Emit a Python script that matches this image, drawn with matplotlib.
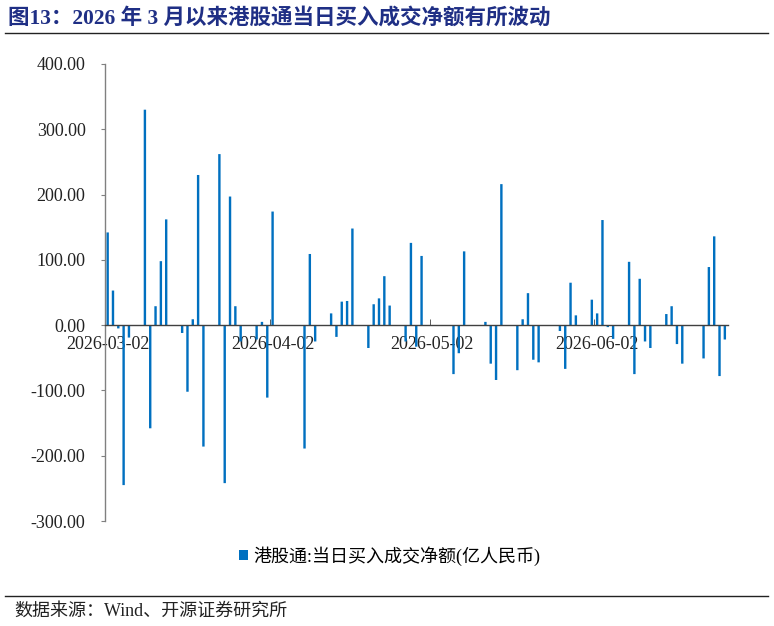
import datetime as dt
import matplotlib
matplotlib.use("Agg")
import matplotlib.pyplot as plt
import matplotlib.dates as mdates
from matplotlib.lines import Line2D
from matplotlib.patches import Patch
from matplotlib.ticker import FormatStrFormatter, FixedLocator

# ── 数据 ─────────────────────────────────────────────
dates = [
    "2026-03-02", "2026-03-03", "2026-03-04", "2026-03-05", "2026-03-06",
    "2026-03-09", "2026-03-10", "2026-03-11", "2026-03-12", "2026-03-13",
    "2026-03-16", "2026-03-17", "2026-03-18", "2026-03-19", "2026-03-20",
    "2026-03-23", "2026-03-24", "2026-03-25", "2026-03-26", "2026-03-27",
    "2026-03-30", "2026-03-31", "2026-04-01", "2026-04-02",
    "2026-04-08", "2026-04-09", "2026-04-10",
    "2026-04-13", "2026-04-14", "2026-04-15", "2026-04-16", "2026-04-17",
    "2026-04-20", "2026-04-21", "2026-04-22", "2026-04-23", "2026-04-24",
    "2026-04-27", "2026-04-28", "2026-04-29", "2026-04-30",
    "2026-05-06", "2026-05-07", "2026-05-08",
    "2026-05-12", "2026-05-13", "2026-05-14", "2026-05-15",
    "2026-05-18", "2026-05-19", "2026-05-20", "2026-05-21", "2026-05-22",
    "2026-05-26", "2026-05-27", "2026-05-28", "2026-05-29",
    "2026-06-01", "2026-06-02", "2026-06-03", "2026-06-04", "2026-06-05",
    "2026-06-08", "2026-06-09", "2026-06-10", "2026-06-11", "2026-06-12",
    "2026-06-15", "2026-06-16", "2026-06-17", "2026-06-18",
    "2026-06-22", "2026-06-23", "2026-06-24", "2026-06-25", "2026-06-26",
]
net_buy = [
    142, 53, -5, -245, -19,
    330, -158, 29, 98, 162,
    -12, -102, 9, 230, -186,
    262, -242, 197, 29, -25,
    -22, 5, -111, 174,
    -189, 109, -25,
    18, -18, 36, 37, 148,
    -35, 32, 41, 75, 30,
    -25, 126, -33, 106,
    -75, -43, 113,
    5, -59, -84, 216,
    -69, 9, 49, -53, -57,
    -9, -67, 65, 15,
    39, 18, 161, -3, -21,
    97, -75, 71, -25, -35,
    17, 29, -29, -59,
    -51, 89, 136, -78, -22,
]
tick_dates = ["2026-03-02", "2026-04-02", "2026-05-02", "2026-06-02"]
y_ticks = [-300, -200, -100, 0, 100, 200, 300, 400]

TITLE = "图13：2026 年 3 月以来港股通当日买入成交净额有所波动"
LEGEND = "港股通:当日买入成交净额(亿人民币)"
SOURCE = "数据来源：Wind、开源证券研究所"

FONTS = ["Liberation Serif", "Noto Sans CJK SC"]
BAR_COLOR = "#0070c0"
AXIS_COLOR = "#808080"

plt.rcParams["font.family"] = FONTS

# ── 绘图 ─────────────────────────────────────────────
x = mdates.date2num([dt.date.fromisoformat(d) for d in dates])
xt = mdates.date2num([dt.date.fromisoformat(d) for d in tick_dates])

fig = plt.figure(figsize=(7.74, 6.26), dpi=100)
ax = fig.add_axes([105 / 774, 1 - 521 / 626, (727.5 - 105) / 774, (521 - 64) / 626])

ax.bar(x, net_buy, width=0.45, color=BAR_COLOR, linewidth=0, snap=False, zorder=2)

ax.set_xlim(x[0] - 0.5, x[-1] + 0.5)
ax.set_ylim(-300, 400)
ax.set_yticks(y_ticks)
ax.yaxis.set_major_formatter(FormatStrFormatter("%.2f"))

# x 轴放在 0 处
ax.spines["bottom"].set_position(("data", 0))
ax.spines["bottom"].set_color("#404040")
ax.spines["bottom"].set_linewidth(1.0)
ax.spines["left"].set_color(AXIS_COLOR)
ax.spines["left"].set_linewidth(1.0)
ax.spines["top"].set_visible(False)
ax.spines["right"].set_visible(False)

ax.xaxis.set_major_locator(FixedLocator(xt))
ax.xaxis.set_minor_locator(FixedLocator(xt - 0.5))
ax.set_xticklabels(tick_dates)
ax.tick_params(axis="x", which="major", length=0, pad=8, labelsize=13, labelcolor="#222222")
ax.tick_params(axis="x", which="minor", direction="in", length=4, color="#404040")
ax.tick_params(axis="y", direction="out", length=3, pad=11, labelsize=13,
               color=AXIS_COLOR, labelcolor="#222222")

# 图例
handle = Patch(facecolor=BAR_COLOR, edgecolor="none")
fig.legend([handle], [LEGEND], loc="center", bbox_to_anchor=(390 / 774, 1 - 556 / 626),
           frameon=False, handlelength=0.5, handleheight=0.5,
           handletextpad=0.3, prop={"family": FONTS, "size": 13})

# 标题、分隔线、来源
fig.text(8 / 774, 1 - 18 / 626, TITLE, ha="left", va="center", fontsize=15.5,
         fontweight="bold", color="#1f2f85", family=FONTS)
fig.add_artist(Line2D([5 / 774, 768 / 774], [1 - 33 / 626] * 2, color="#222222", lw=1.0))
fig.add_artist(Line2D([5 / 774, 768 / 774], [1 - 596 / 626] * 2, color="#222222", lw=1.0))
fig.text(14 / 774, 1 - 611 / 626, SOURCE, ha="left", va="center", fontsize=13,
         color="#222222", family=FONTS)

fig.savefig("out.png", dpi=100)
plt.close(fig)
